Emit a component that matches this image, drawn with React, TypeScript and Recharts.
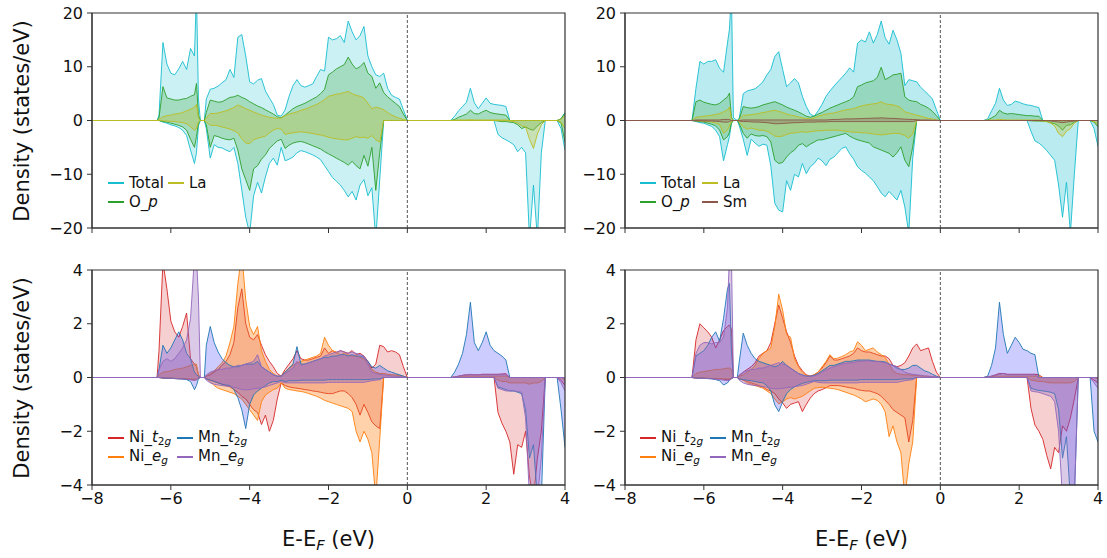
import React from 'react'
import {
  ComposedChart,
  Area,
  XAxis,
  YAxis,
  ReferenceLine,
  ReferenceArea,
} from 'recharts'

// energy grid (eV), shared by all four panels
const X = [
  -8, -6.35, -6.3, -6.2, -6.1, -6.0, -5.9, -5.8, -5.7, -5.6, -5.5, -5.4, -5.35, -5.3, -5.25, -5.15,
  -5.1, -5.0, -4.9, -4.8, -4.7, -4.6, -4.5, -4.4, -4.3, -4.2, -4.1,
  -4.0, -3.9, -3.8, -3.7, -3.6, -3.5, -3.4, -3.3, -3.2, -3.1,
  -3.0, -2.9, -2.8, -2.7, -2.6, -2.5, -2.4, -2.3, -2.2, -2.1,
  -2.0, -1.9, -1.8, -1.7, -1.6, -1.5, -1.4, -1.3, -1.2, -1.1,
  -1.0, -0.9, -0.8, -0.7, -0.6, -0.5, -0.4, -0.3, -0.2, -0.1, 0.0,
  1.1, 1.2, 1.3, 1.4, 1.5, 1.6, 1.7, 1.8, 1.9, 2.0,
  2.1, 2.2, 2.3, 2.4, 2.5, 2.6, 2.7, 2.8, 2.9, 3.0,
  3.1, 3.2, 3.3, 3.4, 3.5, 3.6, 3.7, 3.8, 3.9, 4.0,
]

const X_TICKS = [-8, -6, -4, -2, 0, 2, 4]
const TOP_TICKS = [-20, -10, 0, 10, 20]
const BOT_TICKS = [-4, -2, 0, 2, 4]

// ---- top left (La) ----
const TL_TOT_UP = [
  0, 0, 1, 14.5, 10.5, 8.8, 8.5, 9.6, 11.0, 9.5, 13.4, 12.0, 24, 4, 0, 0,
  4, 5.8, 6.0, 6.4, 7.0, 7.6, 9.5, 8.0, 15.5, 16.0, 12.0,
  7.2, 6.8, 7.5, 7.8, 5.5, 4.2, 3.0, 1.0, 0.8, 2.0,
  4.5, 6.5, 7.6, 6.5, 6.2, 6.5, 6.8, 8.2, 9.5, 9.2,
  15.5, 15.0, 15.2, 15.8, 14.5, 18.5, 16.5, 15.0, 15.8, 17.5,
  12.0, 10.0, 8.5, 8.2, 8.8, 6.0, 4.7, 4.3, 4.0, 2.0, 0,
  0, 0.8, 1.8, 2.6, 3.4, 6.0, 3.3, 2.2, 3.2, 4.2,
  3.2, 3.0, 2.9, 2.8, 2.6, 0, 0, 0, 0, 0,
  0, 0, 0, 0, 0, 0, 0, 0, 0.3, 1.5,
]
const TL_TOT_DN = [
  0, 0, 0, -0.3, -0.5, -0.8, -1.0, -1.3, -1.8, -2.8, -5.5, -8.0, -6.0, -1.0, 0, 0,
  -1.5, -7.0, -4.5, -5.0, -5.1, -5.5, -5.8, -5.0, -8.0, -12.9, -18.0,
  -21, -14.0, -11.5, -13.5, -10.5, -8.0, -7.0, -8.3, -5.0, -7.5,
  -7.2, -6.8, -6.0, -5.6, -5.8, -6.1, -6.4, -6.8, -7.3, -8.4,
  -9.5, -10.6, -11.3, -12.0, -13.0, -14.2, -13.2, -14.8, -12.0, -11.0,
  -14.0, -12.5, -22, -11.0, 0, 0, 0, 0, 0, 0, 0,
  0, 0, 0, 0, 0, 0, 0, 0, 0, 0,
  0, 0, -2.6, -3.2, -3.6, -4.0, -4.5, -5.8, -5.0, -6.0,
  -22, -12.0, -22, -6.0, 0, 0, 0, 0, -1.5, -5.5,
]
const TL_OP_UP = [
  0, 0, 0.5, 6.3, 4.2, 4.0, 3.8, 3.8, 4.0, 4.1, 4.5, 4.8, 6.9, 1.0, 0, 0,
  1.5, 3.8, 3.6, 3.4, 3.5, 3.9, 4.3, 4.4, 4.7, 4.3, 4.0,
  3.5, 3.1, 2.7, 2.4, 2.0, 1.6, 1.2, 0.7, 0.5, 1.0,
  1.6, 2.2, 2.6, 2.9, 3.2, 3.6, 4.0, 4.4, 5.0, 5.8,
  8.5, 9.0, 9.6, 10.0, 10.4, 11.8, 10.5, 9.6, 10.0, 10.8,
  8.8, 8.2, 6.0, 7.0, 5.2, 4.4, 3.8, 3.2, 2.6, 1.2, 0,
  0, 0.2, 0.6, 0.9, 1.2, 1.9, 1.3, 1.2, 1.6, 1.9,
  1.5, 1.3, 1.2, 1.1, 1.0, 0, 0, 0, 0, 0,
  0, 0, 0, 0, 0, 0, 0, 0, 0.3, 1.4,
]
const TL_OP_DN = [
  0, 0, 0, -0.2, -0.3, -0.5, -0.7, -0.9, -1.2, -1.8, -3.5, -5.0, -3.0, -0.5, 0, 0,
  -0.8, -5.0, -2.8, -3.0, -3.3, -3.5, -3.6, -3.3, -5.5, -9.0, -11.0,
  -13.0, -9.0, -8.4, -7.2, -6.4, -5.2, -4.5, -3.8, -3.5, -5.2,
  -4.6, -4.2, -4.0, -3.9, -4.1, -4.4, -4.7, -5.0, -5.3, -5.8,
  -6.2, -6.6, -7.0, -7.4, -7.8, -8.3, -7.6, -8.4, -9.0, -6.5,
  -8.5, -5.0, -13.0, -6.0, 0, 0, 0, 0, 0, 0, 0,
  0, 0, 0, 0, 0, 0, 0, 0, 0, 0,
  0, 0, -0.1, -0.2, -0.2, -0.3, -0.4, -0.8, -1.5, -1.2,
  -1.6, -1.8, -1.0, -0.4, 0, 0, 0, 0, -0.5, -4.0,
]
const TL_LA_UP = [
  0, 0, 0.2, 0.7, 0.9, 1.0, 1.2, 1.3, 1.5, 1.8, 2.1, 2.5, 3.0, 0.5, 0, 0,
  0.5, 1.3, 1.3, 1.4, 1.6, 1.8, 2.1, 2.4, 2.9, 2.6, 2.2,
  1.9, 1.6, 1.3, 1.0, 0.8, 0.6, 0.5, 0.4, 0.5, 0.9,
  1.2, 1.4, 1.6, 1.9, 2.1, 2.4, 2.7, 3.0, 3.4, 3.9,
  4.5, 4.7, 4.9, 5.0, 5.2, 5.4, 5.0, 4.7, 4.5, 4.2,
  3.2, 2.2, 2.5, 2.3, 2.0, 1.5, 1.0, 0.7, 0.4, 0.2, 0,
  0, 0.05, 0.1, 0.1, 0.1, 0.15, 0.1, 0.1, 0.1, 0.1,
  0.1, 0.1, 0.1, 0.1, 0.1, 0, 0, 0, 0, 0,
  0, 0, 0, 0, 0, 0, 0, 0, 0.2, 1.0,
]
const TL_LA_DN = [
  0, 0, 0, -0.05, -0.1, -0.15, -0.2, -0.3, -0.4, -0.6, -1.2, -1.8, -1.5, -0.3, 0, 0,
  -0.3, -0.9, -0.9, -1.0, -1.2, -1.4, -1.6, -1.9, -2.3, -3.4, -4.2,
  -4.3, -3.6, -3.3, -3.1, -2.9, -2.3, -1.8, -1.5, -1.6, -2.6,
  -2.4, -2.3, -2.2, -2.1, -2.2, -2.3, -2.4, -2.6, -2.7, -2.9,
  -3.1, -3.3, -3.4, -3.5, -3.6, -3.6, -3.3, -3.0, -3.2, -3.1,
  -3.3, -2.8, -3.6, -4.0, 0, 0, 0, 0, 0, 0, 0,
  0, 0, 0, 0, 0, 0, 0, 0, 0, 0,
  0, 0, 0, -0.05, -0.05, -0.1, -0.2, -0.5, -1.0, -1.2,
  -3.5, -5.2, -2.5, -0.8, 0, 0, 0, 0, -0.3, -1.5,
]

// ---- top right (La + Sm) ----
const TR_TOT_UP = [
  0, 0, 0, 6.0, 11.0, 10.5, 11.0, 11.0, 11.3, 9.7, 9.0, 14.4, 17.0, 24, 0.5, 0,
  0.5, 5.0, 5.5, 5.7, 5.9, 6.5, 7.2, 8.5, 9.5, 11.9, 12.8,
  9.5, 6.3, 7.0, 7.8, 7.0, 4.5, 2.6, 1.2, 0.8, 1.8,
  3.0, 4.5, 5.5, 6.4, 7.2, 8.0, 8.8, 9.8, 9.0, 14.4,
  15.0, 14.6, 16.5, 14.4, 16.0, 18.5, 15.4, 14.2, 16.8, 15.0,
  12.5, 6.5, 7.6, 7.4, 7.2, 6.2, 5.5, 4.8, 4.0, 2.0, 0,
  0, 0.3, 1.8, 3.2, 6.0, 3.8, 2.8, 3.0, 3.6, 3.4,
  3.1, 2.9, 2.8, 2.6, 2.4, 0, 0, 0, 0, 0,
  0, 0, 0, 0, 0, 0, 0, 0, 0, 0,
]
const TR_TOT_DN = [
  0, 0, 0, -0.2, -0.4, -0.5, -0.8, -1.1, -1.8, -3.0, -7.5, -4.5, -3.0, -0.5, 0, 0,
  -1.0, -3.5, -6.5, -3.5, -4.2, -4.8, -4.4, -4.6, -8.5, -15.4, -16.7,
  -17.0, -11.2, -13.0, -10.0, -10.5, -8.0, -9.9, -8.6, -8.0, -7.0,
  -7.5, -8.4, -7.2, -6.8, -6.0, -5.2, -4.9, -6.2, -7.2, -8.6,
  -9.3, -9.8, -10.5, -11.2, -12.3, -13.5, -14.2, -13.2, -14.0, -14.8,
  -13.0, -16.1, -21, -7.0, 0, 0, 0, 0, 0, 0, 0,
  0, 0, 0, 0, 0, 0, 0, 0, 0, 0,
  0, 0, -2.0, -3.8, -4.2, -4.8, -5.6, -6.5, -7.4, -12.0,
  -18.0, -11.5, -21.0, -10.0, 0, 0, 0, 0, -1.5, -4.8,
]
const TR_OP_UP = [
  0, 0, 0, 3.5, 3.8, 3.4, 3.2, 3.0, 2.9, 3.2, 3.8, 4.4, 5.1, 0.6, 0, 0,
  0.3, 2.6, 2.4, 2.3, 2.4, 2.6, 2.9, 3.1, 3.3, 3.5, 3.2,
  2.9, 2.5, 2.2, 1.9, 1.6, 1.2, 0.8, 0.6, 0.8, 1.2,
  1.5, 1.9, 2.3, 2.6, 2.9, 3.2, 3.5, 3.8, 4.4, 6.3,
  6.6, 7.0, 7.2, 7.4, 8.0, 9.9, 7.6, 8.0, 8.5, 8.6,
  8.8, 4.4, 3.8, 3.6, 3.5, 3.0, 2.7, 2.3, 1.7, 0.9, 0,
  0, 0.1, 0.5, 0.9, 1.9, 1.4, 1.2, 1.3, 1.2, 1.1,
  1.0, 0.9, 0.9, 0.8, 0.8, 0, 0, 0, 0, 0,
  0, 0, 0, 0, 0, 0, 0, 0, 0, 0,
]
const TR_OP_DN = [
  0, 0, 0, -0.1, -0.2, -0.3, -0.5, -0.7, -1.0, -1.8, -3.6, -3.0, -2.2, -0.5, 0, 0,
  -0.6, -2.4, -3.3, -2.5, -2.8, -2.9, -2.8, -3.0, -4.0, -7.4, -8.0,
  -7.8, -6.8, -6.0, -5.5, -4.6, -4.3, -4.9, -4.4, -4.0, -3.6,
  -3.6, -3.4, -3.2, -3.0, -2.8, -2.6, -2.4, -2.9, -3.3, -3.6,
  -3.8, -4.0, -4.2, -4.9, -5.2, -5.5, -5.8, -6.1, -6.8, -6.0,
  -4.9, -7.4, -8.6, -4.9, 0, 0, 0, 0, 0, 0, 0,
  0, 0, 0, 0, 0, 0, 0, 0, 0, 0,
  0, 0, -0.05, -0.1, -0.1, -0.15, -0.2, -0.4, -0.6, -1.0,
  -1.8, -0.9, -0.8, -0.3, 0, 0, 0, 0, -0.3, -1.2,
]
const TR_LA_UP = [
  0, 0, 0, 0.6, 0.7, 0.8, 0.9, 1.0, 1.1, 1.3, 1.6, 2.0, 2.5, 0.3, 0, 0,
  0.2, 1.0, 1.0, 1.1, 1.2, 1.3, 1.5, 1.6, 1.8, 1.9, 1.7,
  1.5, 1.2, 1.0, 0.9, 0.7, 0.5, 0.4, 0.3, 0.5, 0.8,
  1.0, 1.2, 1.3, 1.4, 1.6, 1.8, 2.0, 2.1, 2.2, 2.5,
  2.7, 2.9, 3.0, 3.1, 3.2, 3.5, 3.1, 3.0, 2.9, 2.7,
  2.4, 1.6, 1.4, 1.2, 1.0, 0.8, 0.6, 0.4, 0.3, 0.1, 0,
  0, 0.05, 0.1, 0.1, 0.2, 0.15, 0.1, 0.1, 0.1, 0.1,
  0.1, 0.1, 0.1, 0.1, 0.1, 0, 0, 0, 0, 0,
  0, 0, 0, 0, 0, 0, 0, 0, 0, 0,
]
const TR_LA_DN = [
  0, 0, 0, -0.05, -0.1, -0.15, -0.2, -0.3, -0.5, -0.8, -2.4, -1.8, -1.0, -0.2, 0, 0,
  -0.3, -1.2, -1.6, -1.4, -1.6, -1.8, -1.8, -2.0, -2.4, -2.9, -3.0,
  -2.9, -2.6, -2.4, -2.3, -2.2, -2.1, -2.2, -2.1, -2.0, -1.9,
  -1.9, -1.8, -1.8, -1.8, -1.8, -1.9, -2.0, -2.1, -2.2, -2.2,
  -2.3, -2.3, -2.4, -2.5, -2.6, -2.7, -2.6, -2.5, -2.4, -2.4,
  -2.5, -2.8, -3.3, -2.5, 0, 0, 0, 0, 0, 0, 0,
  0, 0, 0, 0, 0, 0, 0, 0, 0, 0,
  0, 0, 0, -0.05, -0.05, -0.1, -0.2, -0.5, -1.0, -2.4,
  -3.0, -2.0, -1.5, -0.5, 0, 0, 0, 0, -0.2, -0.8,
]
const TR_SM_UP = [
  0, 0, 0, 0.1, 0.1, 0.1, 0.1, 0.1, 0.1, 0.1, 0.2, 0.2, 0.2, 0, 0, 0,
  0, 0.1, 0.1, 0.1, 0.1, 0.1, 0.1, 0.1, 0.1, 0.1, 0.1,
  0.1, 0.1, 0.1, 0.1, 0.1, 0.1, 0.1, 0.1, 0.1, 0.1,
  0.1, 0.1, 0.15, 0.2, 0.2, 0.25, 0.3, 0.3, 0.3, 0.35,
  0.35, 0.4, 0.4, 0.45, 0.45, 0.5, 0.45, 0.4, 0.4, 0.35,
  0.3, 0.25, 0.2, 0.2, 0.15, 0.1, 0.1, 0.1, 0.05, 0.05, 0,
  0, 0, 0, 0, 0, 0, 0, 0, 0, 0,
  0, 0, 0, 0, 0, 0, 0, 0, 0, 0,
  0, 0, 0, 0, 0, 0, 0, 0, 0, 0,
]
const TR_SM_DN = [
  0, 0, 0, -0.05, -0.05, -0.1, -0.1, -0.1, -0.15, -0.2, -0.3, -0.3, -0.2, 0, 0, 0,
  -0.1, -0.2, -0.2, -0.25, -0.3, -0.3, -0.35, -0.4, -0.5, -0.6, -0.6,
  -0.55, -0.5, -0.45, -0.4, -0.4, -0.35, -0.3, -0.3, -0.3, -0.25,
  -0.25, -0.25, -0.2, -0.2, -0.2, -0.2, -0.2, -0.2, -0.2, -0.2,
  -0.2, -0.2, -0.2, -0.2, -0.2, -0.2, -0.2, -0.2, -0.2, -0.2,
  -0.2, -0.2, -0.2, -0.2, 0, 0, 0, 0, 0, 0, 0,
  0, 0, 0, 0, 0, 0, 0, 0, 0, 0,
  0, 0, 0, 0, 0, 0, 0, -0.1, -0.2, -0.3,
  -0.4, -0.3, -0.2, -0.1, 0, 0, 0, 0, 0, 0,
]

// ---- bottom left (Ni / Mn d orbitals) ----
const BL_NIT_UP = [
  0, 0, 1.0, 4.3, 3.3, 2.1, 1.7, 1.5, 1.9, 2.4, 0.7, 0.5, 0.4, 0.1, 0, 0,
  0.05, 0.1, 0.2, 0.3, 0.45, 0.6, 0.85, 1.3, 2.6, 3.3, 2.0,
  1.5, 1.4, 1.6, 1.2, 0.85, 0.6, 0.4, 0.15, 0.05, 0.3,
  0.5, 0.7, 1.0, 0.7, 0.65, 0.65, 0.7, 0.75, 0.8, 1.1,
  0.9, 1.0, 0.9, 1.0, 0.95, 0.9, 1.0, 0.85, 0.9, 0.8,
  0.6, 0.35, 0.5, 1.2, 1.15, 0.95, 1.0, 0.95, 0.85, 0.4, 0,
  0, 0.02, 0.05, 0.08, 0.1, 0.1, 0.1, 0.1, 0.12, 0.12,
  0.12, 0.12, 0.12, 0.13, 0.14, 0, 0, 0, 0, 0,
  0, 0, 0, 0, 0, 0, 0, 0, 0, 0,
]
const BL_NIT_DN = [
  0, 0, 0, -0.02, -0.03, -0.03, -0.04, -0.05, -0.05, -0.06, -0.08, -0.1, -0.08, -0.02, 0, 0,
  -0.05, -0.1, -0.15, -0.2, -0.25, -0.3, -0.35, -0.45, -0.55, -0.7, -0.8,
  -1.0, -1.2, -1.3, -1.75, -1.4, -2.0, -1.6, -0.8, -0.2, -0.3,
  -0.35, -0.38, -0.4, -0.42, -0.45, -0.47, -0.5, -0.52, -0.55, -0.58,
  -0.6, -0.6, -0.55, -0.5, -0.5, -0.6, -0.75, -1.0, -1.4, -1.0,
  -1.3, -1.65, -1.8, -1.9, 0, 0, 0, 0, 0, 0, 0,
  0, 0, 0, 0, 0, 0, 0, 0, 0, 0,
  0, 0, -1.3, -1.7, -2.0, -2.4, -3.6, -2.5, -2.6, -2.0,
  -3.7, -4.5, -3.0, -2.0, 0, 0, 0, 0, -0.1, -0.3,
]
const BL_NIE_UP = [
  0, 0, 0.1, 0.2, 0.22, 0.25, 0.3, 0.32, 0.35, 0.4, 0.45, 0.5, 0.5, 0.1, 0, 0,
  0.05, 0.15, 0.25, 0.4, 0.55, 0.8, 1.3, 1.9, 3.5, 4.6, 2.9,
  1.9, 1.6, 1.9, 1.0, 0.6, 0.3, 0.15, 0.05, 0.05, 0.2,
  0.35, 0.45, 0.55, 0.6, 0.65, 0.7, 0.75, 0.8, 0.9, 1.5,
  1.2, 1.0, 0.95, 0.85, 0.9, 0.85, 0.8, 0.8, 0.75, 0.7,
  0.5, 0.3, 0.2, 0.15, 0.15, 0.12, 0.1, 0.1, 0.08, 0.05, 0,
  0, 0.02, 0.03, 0.05, 0.05, 0.05, 0.05, 0.05, 0.05, 0.05,
  0.05, 0.05, 0.05, 0.05, 0.05, 0, 0, 0, 0, 0,
  0, 0, 0, 0, 0, 0, 0, 0, 0, 0,
]
const BL_NIE_DN = [
  0, 0, 0, -0.02, -0.02, -0.02, -0.03, -0.03, -0.03, -0.04, -0.05, -0.06, -0.05, -0.01, 0, 0,
  -0.05, -0.15, -0.3, -0.4, -0.45, -0.5, -0.55, -0.6, -0.7, -0.8, -1.0,
  -1.2, -1.4, -1.6, -0.9, -0.65, -0.55, -0.45, -0.4, -0.2, -0.4,
  -0.45, -0.47, -0.5, -0.52, -0.55, -0.6, -0.65, -0.7, -0.77, -0.85,
  -0.9, -0.95, -1.0, -1.05, -1.1, -1.15, -1.27, -2.0, -2.4, -2.0,
  -2.3, -2.8, -4.5, -2.3, 0, 0, 0, 0, 0, 0, 0,
  0, 0, 0, 0, 0, 0, 0, 0, 0, 0,
  0, 0, -0.1, -0.15, -0.15, -0.2, -0.2, -0.2, -0.2, -0.2,
  -0.25, -0.2, -0.2, -0.15, 0, 0, 0, 0, 0, -0.1,
]
const BL_MNT_UP = [
  0, 0, 0.3, 1.2, 0.9, 1.1, 1.4, 1.7, 1.4, 0.9, 0.7, 0.2, 0.1, 0.05, 0, 0,
  1.2, 1.9, 1.3, 0.95, 0.7, 0.55, 0.45, 0.4, 0.4, 0.45, 0.5,
  0.5, 0.5, 0.6, 0.4, 0.3, 0.2, 0.1, 0.05, 0.05, 0.2,
  0.35, 0.5, 1.15, 0.5, 0.5, 0.55, 0.6, 0.65, 0.7, 0.75,
  0.75, 0.8, 0.8, 0.85, 0.85, 0.8, 0.85, 0.8, 0.8, 0.75,
  0.6, 0.4, 0.35, 0.45, 0.35, 0.25, 0.2, 0.15, 0.1, 0.05, 0,
  0, 0.2, 0.5, 0.9, 1.6, 2.8, 1.3, 1.0, 1.3, 1.7,
  1.2, 1.0, 0.9, 0.8, 0.65, 0, 0, 0, 0, 0,
  0, 0, 0, 0, 0, 0, 0, 0, 0, 0,
]
const BL_MNT_DN = [
  0, 0, 0, -0.02, -0.03, -0.03, -0.04, -0.05, -0.06, -0.08, -0.15, -0.45, -0.3, -0.05, 0, 0,
  -0.05, -0.1, -0.15, -0.2, -0.25, -0.28, -0.3, -0.45, -0.75, -1.2, -1.9,
  -1.0, -0.65, -0.5, -0.4, -0.3, -0.2, -0.15, -0.15, -0.1, -0.15,
  -0.12, -0.12, -0.12, -0.1, -0.1, -0.1, -0.1, -0.1, -0.1, -0.1,
  -0.08, -0.08, -0.08, -0.08, -0.08, -0.08, -0.08, -0.08, -0.08, -0.08,
  -0.08, -0.06, -0.05, -0.05, 0, 0, 0, 0, 0, 0, 0,
  0, 0, 0, 0, 0, 0, 0, 0, 0, 0,
  0, 0, -0.35, -0.4, -0.45, -0.5, -0.5, -0.55, -0.6, -1.2,
  -3.0, -2.5, -4.5, -4.5, 0, 0, 0, 0, -1.2, -2.6,
]
const BL_MNE_UP = [
  0, 0, 0.3, 0.6, 0.7, 0.6, 0.7, 0.9, 1.1, 1.4, 2.2, 4.5, 4.5, 3.0, 0, 0,
  0.1, 0.2, 0.25, 0.3, 0.3, 0.35, 0.35, 0.4, 0.45, 0.45, 0.5,
  0.55, 0.6, 0.85, 0.4, 0.3, 0.2, 0.1, 0.05, 0.05, 0.15,
  0.25, 0.35, 0.6, 0.45, 0.5, 0.55, 0.6, 0.65, 0.7, 0.8,
  0.85, 0.9, 0.95, 1.0, 0.95, 0.9, 0.95, 0.9, 0.85, 0.8,
  0.5, 0.2, 0.15, 0.12, 0.1, 0.08, 0.06, 0.05, 0.03, 0.02, 0,
  0, 0.02, 0.05, 0.08, 0.1, 0.12, 0.1, 0.1, 0.1, 0.1,
  0.1, 0.1, 0.1, 0.1, 0.1, 0, 0, 0, 0, 0,
  0, 0, 0, 0, 0, 0, 0, 0, 0, 0,
]
const BL_MNE_DN = [
  0, 0, 0, -0.02, -0.02, -0.03, -0.03, -0.04, -0.05, -0.06, -0.08, -0.1, -0.08, -0.02, 0, 0,
  -0.1, -0.2, -0.25, -0.28, -0.3, -0.32, -0.34, -0.36, -0.4, -0.45, -0.46,
  -0.45, -0.42, -0.4, -0.38, -0.35, -0.3, -0.25, -0.2, -0.15, -0.2,
  -0.2, -0.2, -0.2, -0.2, -0.2, -0.2, -0.2, -0.2, -0.2, -0.2,
  -0.18, -0.18, -0.18, -0.18, -0.18, -0.18, -0.18, -0.18, -0.18, -0.18,
  -0.15, -0.12, -0.1, -0.08, 0, 0, 0, 0, 0, 0, 0,
  0, 0, 0, 0, 0, 0, 0, 0, 0, 0,
  0, 0, -0.4, -0.45, -0.5, -0.5, -0.5, -0.52, -0.55, -1.5,
  -4.5, -4.5, -4.5, -3.0, 0, 0, 0, 0, -0.2, -0.5,
]

// ---- bottom right ----
const BR_NIT_UP = [
  0, 0, 0, 1.4, 2.0, 1.85, 1.7, 1.5, 1.1, 1.4, 1.75, 1.9, 1.95, 1.8, 0, 0,
  0.05, 0.2, 0.3, 0.4, 0.55, 0.8, 0.9, 1.0, 1.3, 2.0, 2.7,
  2.2, 1.7, 1.3, 0.8, 0.45, 0.25, 0.1, 0.05, 0.1, 0.2,
  0.35, 0.55, 0.8, 0.65, 0.65, 0.7, 0.75, 0.8, 0.9, 1.1,
  1.0, 0.95, 0.95, 0.9, 0.85, 0.8, 0.8, 0.7, 0.45, 0.4,
  0.45, 0.55, 0.8, 1.1, 1.25, 1.0, 1.05, 1.1, 0.6, 0.2, 0,
  0, 0.02, 0.05, 0.1, 0.15, 0.15, 0.12, 0.12, 0.12, 0.12,
  0.12, 0.12, 0.12, 0.12, 0.1, 0, 0, 0, 0, 0,
  0, 0, 0, 0, 0, 0, 0, 0, 0, 0,
]
const BR_NIT_DN = [
  0, 0, 0, -0.02, -0.02, -0.03, -0.03, -0.04, -0.05, -0.05, -0.06, -0.08, -0.08, -0.05, 0, 0,
  -0.05, -0.1, -0.15, -0.2, -0.25, -0.3, -0.35, -0.45, -0.5, -0.6, -0.8,
  -0.95, -1.15, -1.0, -0.95, -0.9, -1.27, -1.0, -0.77, -0.6, -0.5,
  -0.45, -0.38, -0.3, -0.3, -0.3, -0.32, -0.35, -0.38, -0.4, -0.45,
  -0.48, -0.5, -0.5, -0.55, -0.6, -0.7, -0.85, -1.0, -1.2, -1.3,
  -1.4, -1.5, -2.4, -1.6, 0, 0, 0, 0, 0, 0, 0,
  0, 0, 0, 0, 0, 0, 0, 0, 0, 0,
  0, 0, -1.15, -1.77, -2.0, -2.3, -2.9, -3.4, -2.6, -2.8,
  -1.8, -2.0, -1.5, -0.8, 0, 0, 0, 0, -0.1, -0.2,
]
const BR_NIE_UP = [
  0, 0, 0, 0.15, 0.2, 0.22, 0.25, 0.27, 0.3, 0.3, 0.32, 0.35, 0.35, 0.3, 0, 0,
  0.05, 0.1, 0.2, 0.3, 0.45, 0.7, 0.9, 1.0, 1.1, 1.9, 3.1,
  2.5, 1.6, 1.5, 0.7, 0.4, 0.2, 0.08, 0.05, 0.1, 0.2,
  0.4, 0.6, 0.85, 0.7, 0.72, 0.78, 0.85, 0.95, 1.0, 1.33,
  1.2, 1.0, 1.05, 1.1, 0.95, 0.85, 0.75, 0.5, 0.25, 0.15,
  0.12, 0.1, 0.1, 0.08, 0.08, 0.06, 0.05, 0.04, 0.03, 0.02, 0,
  0, 0.02, 0.03, 0.05, 0.05, 0.05, 0.05, 0.05, 0.05, 0.05,
  0.05, 0.05, 0.05, 0.05, 0.05, 0, 0, 0, 0, 0,
  0, 0, 0, 0, 0, 0, 0, 0, 0, 0,
]
const BR_NIE_DN = [
  0, 0, 0, -0.02, -0.02, -0.02, -0.03, -0.03, -0.03, -0.04, -0.05, -0.05, -0.05, -0.02, 0, 0,
  -0.05, -0.1, -0.2, -0.25, -0.3, -0.35, -0.4, -0.5, -0.6, -0.8, -0.98,
  -0.9, -0.8, -0.75, -0.8, -0.75, -0.7, -0.6, -0.5, -0.4, -0.38,
  -0.36, -0.38, -0.4, -0.42, -0.45, -0.5, -0.55, -0.6, -0.65, -0.72,
  -0.8, -0.9, -0.85, -0.8, -0.85, -1.0, -1.27, -2.2, -1.8, -2.4,
  -2.8, -4.5, -3.2, -2.4, 0, 0, 0, 0, 0, 0, 0,
  0, 0, 0, 0, 0, 0, 0, 0, 0, 0,
  0, 0, -0.1, -0.12, -0.15, -0.15, -0.18, -0.2, -0.2, -0.2,
  -0.2, -0.2, -0.2, -0.15, 0, 0, 0, 0, 0, -0.05,
]
const BR_MNT_UP = [
  0, 0, 0, 0.8, 0.9, 1.0, 1.2, 1.5, 1.7, 1.35, 2.2, 3.3, 3.5, 1.0, 0, 0,
  0.6, 1.65, 1.2, 0.9, 0.7, 0.6, 0.55, 0.5, 0.45, 0.4, 0.45,
  0.6, 0.45, 0.35, 0.25, 0.15, 0.1, 0.05, 0.05, 0.08, 0.15,
  0.25, 0.35, 0.45, 0.45, 0.5, 0.55, 0.6, 0.6, 0.62, 0.65,
  0.65, 0.65, 0.65, 0.62, 0.6, 0.6, 0.58, 0.5, 0.45, 0.35,
  0.3, 0.3, 0.35, 0.45, 0.45, 0.35, 0.25, 0.2, 0.12, 0.05, 0,
  0, 0.05, 0.45, 1.1, 2.8, 1.6, 0.9, 1.2, 1.5, 1.3,
  1.05, 1.0, 0.9, 0.85, 0, 0, 0, 0, 0, 0,
  0, 0, 0, 0, 0, 0, 0, 0, 0, 0,
]
const BR_MNT_DN = [
  0, 0, 0, -0.02, -0.03, -0.03, -0.04, -0.05, -0.08, -0.12, -0.28, -0.2, -0.1, -0.03, 0, 0,
  -0.05, -0.08, -0.1, -0.12, -0.15, -0.18, -0.2, -0.3, -0.5, -1.02, -1.27,
  -0.9, -0.6, -0.45, -0.35, -0.28, -0.22, -0.18, -0.15, -0.12, -0.12,
  -0.12, -0.12, -0.1, -0.1, -0.1, -0.1, -0.1, -0.1, -0.1, -0.1,
  -0.08, -0.08, -0.08, -0.08, -0.08, -0.08, -0.08, -0.08, -0.08, -0.08,
  -0.06, -0.05, -0.05, -0.04, 0, 0, 0, 0, 0, 0, 0,
  0, 0, 0, 0, 0, 0, 0, 0, 0, 0,
  0, 0, -0.4, -0.45, -0.48, -0.5, -0.52, -0.55, -0.6, -1.2,
  -3.0, -2.2, -4.5, -4.5, 0, 0, 0, 0, -2.0, -2.4,
]
const BR_MNE_UP = [
  0, 0, 0, 0.9, 1.2, 1.3, 1.3, 1.25, 1.3, 1.3, 1.5, 2.6, 4.5, 4.5, 0, 0,
  0.1, 0.2, 0.25, 0.3, 0.3, 0.35, 0.35, 0.4, 0.45, 0.5, 0.55,
  0.5, 0.45, 0.35, 0.25, 0.15, 0.08, 0.05, 0.05, 0.06, 0.12,
  0.2, 0.28, 0.35, 0.4, 0.45, 0.5, 0.52, 0.55, 0.55, 0.6,
  0.6, 0.62, 0.62, 0.6, 0.6, 0.58, 0.55, 0.5, 0.45, 0.4,
  0.3, 0.2, 0.15, 0.12, 0.1, 0.08, 0.06, 0.05, 0.03, 0.02, 0,
  0, 0.02, 0.05, 0.08, 0.12, 0.15, 0.1, 0.1, 0.1, 0.1,
  0.1, 0.1, 0.1, 0.1, 0, 0, 0, 0, 0, 0,
  0, 0, 0, 0, 0, 0, 0, 0, 0, 0,
]
const BR_MNE_DN = [
  0, 0, 0, -0.02, -0.03, -0.03, -0.04, -0.05, -0.06, -0.08, -0.1, -0.12, -0.1, -0.03, 0, 0,
  -0.1, -0.2, -0.25, -0.28, -0.3, -0.32, -0.34, -0.36, -0.4, -0.42, -0.42,
  -0.4, -0.38, -0.36, -0.34, -0.32, -0.3, -0.25, -0.2, -0.15, -0.18,
  -0.2, -0.2, -0.2, -0.2, -0.2, -0.2, -0.2, -0.2, -0.2, -0.2,
  -0.18, -0.18, -0.18, -0.18, -0.18, -0.18, -0.18, -0.18, -0.18, -0.18,
  -0.15, -0.12, -0.1, -0.08, 0, 0, 0, 0, 0, 0, 0,
  0, 0, 0, 0, 0, 0, 0, 0, 0, 0,
  0, 0, -0.5, -0.53, -0.55, -0.6, -0.65, -0.7, -0.9, -2.0,
  -4.5, -4.5, -4.5, -4.5, 0, 0, 0, 0, -0.2, -0.4,
]

const C_TOTAL = '#17becf'
const C_OP = '#2ca02c'
const C_LA = '#bcbd22'
const C_SM = '#8c564b'
const C_NIT = '#d62728'
const C_NIE = '#ff7f0e'
const C_MNT = '#1f77b4'
const C_MNE = '#9467bd'

const FONT = '"DejaVu Sans", Verdana, sans-serif'

type Series = { up: number[]; dn: number[]; color: string; fill: string; alpha: number }

const fmt = (v: number) => (v < 0 ? `\u2212${Math.abs(v)}` : `${v}`)

const Sub = ({ children }: { children: React.ReactNode }) => (
  <span style={{ fontSize: '0.7em', verticalAlign: '-0.3em' }}>{children}</span>
)

const PLOT_W = 473
const PLOT_H = 215
const Y_W = 60
const X_H = 30
const M_TOP = 15
const M_RIGHT = 15

function Panel(props: {
  left: number
  top: number
  series: Series[]
  yMax: number
  yTicks: number[]
  showX: boolean
}) {
  const { left, top, series, yMax, yTicks, showX } = props
  const data = X.map((x, i) => {
    const row: Record<string, number> = { x }
    series.forEach((s, k) => {
      row['u' + k] = s.up[i]
      row['d' + k] = s.dn[i]
    })
    return row
  })
  const tickStyle = { fontSize: 16, fill: '#111', fontFamily: FONT }
  return (
    <div style={{ position: 'absolute', left: left - Y_W, top: top - M_TOP }}>
      <ComposedChart
        width={Y_W + PLOT_W + M_RIGHT}
        height={PLOT_H + M_TOP + X_H}
        data={data}
        margin={{ top: M_TOP, right: M_RIGHT, left: 0, bottom: 0 }}
      >
        <XAxis
          type="number"
          dataKey="x"
          domain={[-8, 4]}
          ticks={X_TICKS}
          interval={0}
          allowDataOverflow
          height={X_H}
          tickSize={5}
          tickMargin={3}
          tick={tickStyle}
          tickFormatter={showX ? fmt : () => ''}
          stroke="#333"
        />
        <YAxis
          type="number"
          domain={[-yMax, yMax]}
          ticks={yTicks}
          interval={0}
          allowDataOverflow
          width={Y_W}
          tickSize={5}
          tickMargin={4}
          tick={tickStyle}
          tickFormatter={fmt}
          stroke="#333"
        />
        {series.flatMap((s, k) => [
          <Area
            key={'u' + k}
            type="linear"
            dataKey={'u' + k}
            baseValue={0}
            stroke={s.color}
            strokeWidth={1}
            strokeOpacity={0.9}
            fill={s.fill}
            fillOpacity={s.alpha}
            dot={false}
            activeDot={false}
            isAnimationActive={false}
          />,
          <Area
            key={'d' + k}
            type="linear"
            dataKey={'d' + k}
            baseValue={0}
            stroke={s.color}
            strokeWidth={1}
            strokeOpacity={0.9}
            fill={s.fill}
            fillOpacity={s.alpha}
            dot={false}
            activeDot={false}
            isAnimationActive={false}
          />,
        ])}
        <ReferenceLine x={0} stroke="#555" strokeWidth={1} strokeDasharray="3 2" />
        <ReferenceArea
          x1={-8}
          x2={4}
          y1={-yMax}
          y2={yMax}
          fill="none"
          fillOpacity={0}
          stroke="#333"
          strokeWidth={1.2}
        />
      </ComposedChart>
    </div>
  )
}

type LegendItem = { label: React.ReactNode; color: string; col: number; row: number }

function LegendBox({ x, y, col2, items }: { x: number; y: number; col2: number; items: LegendItem[] }) {
  return (
    <>
      {items.map((it, i) => (
        <div
          key={i}
          style={{
            position: 'absolute',
            left: x + it.col * col2,
            top: y + it.row * 19 - 9,
            height: 18,
            display: 'flex',
            alignItems: 'center',
            fontFamily: FONT,
            fontSize: 15,
            color: '#111',
            whiteSpace: 'nowrap',
          }}
        >
          <div style={{ width: 16, height: 2, background: it.color, marginRight: 5, flex: 'none' }} />
          <span>{it.label}</span>
        </div>
      ))}
    </>
  )
}

const topLeftSeries: Series[] = [
  { up: TL_TOT_UP, dn: TL_TOT_DN, color: C_TOTAL, fill: C_TOTAL, alpha: 0.22 },
  { up: TL_OP_UP, dn: TL_OP_DN, color: C_OP, fill: C_OP, alpha: 0.25 },
  { up: TL_LA_UP, dn: TL_LA_DN, color: C_LA, fill: C_LA, alpha: 0.3 },
]
const topRightSeries: Series[] = [
  { up: TR_TOT_UP, dn: TR_TOT_DN, color: C_TOTAL, fill: C_TOTAL, alpha: 0.3 },
  { up: TR_OP_UP, dn: TR_OP_DN, color: C_OP, fill: C_OP, alpha: 0.25 },
  { up: TR_LA_UP, dn: TR_LA_DN, color: C_LA, fill: C_LA, alpha: 0.3 },
  { up: TR_SM_UP, dn: TR_SM_DN, color: C_SM, fill: C_SM, alpha: 0.3 },
]
const botLeftSeries: Series[] = [
  { up: BL_NIT_UP, dn: BL_NIT_DN, color: C_NIT, fill: C_NIT, alpha: 0.22 },
  { up: BL_NIE_UP, dn: BL_NIE_DN, color: C_NIE, fill: C_NIE, alpha: 0.35 },
  { up: BL_MNT_UP, dn: BL_MNT_DN, color: C_MNT, fill: '#0000ff', alpha: 0.2 },
  { up: BL_MNE_UP, dn: BL_MNE_DN, color: C_MNE, fill: C_MNE, alpha: 0.35 },
]
const botRightSeries: Series[] = [
  { up: BR_NIT_UP, dn: BR_NIT_DN, color: C_NIT, fill: C_NIT, alpha: 0.22 },
  { up: BR_NIE_UP, dn: BR_NIE_DN, color: C_NIE, fill: C_NIE, alpha: 0.35 },
  { up: BR_MNT_UP, dn: BR_MNT_DN, color: C_MNT, fill: '#0000ff', alpha: 0.2 },
  { up: BR_MNE_UP, dn: BR_MNE_DN, color: C_MNE, fill: C_MNE, alpha: 0.35 },
]

const opLabel = (
  <>
    O_<i>p</i>
  </>
)
const nitLabel = (
  <>
    Ni_<i>t</i>
    <Sub>
      2<i>g</i>
    </Sub>
  </>
)
const nieLabel = (
  <>
    Ni_<i>e</i>
    <Sub>
      <i>g</i>
    </Sub>
  </>
)
const mntLabel = (
  <>
    Mn_<i>t</i>
    <Sub>
      2<i>g</i>
    </Sub>
  </>
)
const mneLabel = (
  <>
    Mn_<i>e</i>
    <Sub>
      <i>g</i>
    </Sub>
  </>
)

const xLabel = (
  <>
    E-E<Sub><i>F</i></Sub> (eV)
  </>
)

const labelStyle: React.CSSProperties = {
  position: 'absolute',
  fontFamily: FONT,
  fontSize: 21,
  color: '#111',
  whiteSpace: 'nowrap',
  transform: 'translate(-50%, -50%)',
}

export default function App() {
  return (
    <div
      style={{
        position: 'absolute',
        left: 0,
        top: 0,
        width: 1107,
        height: 558,
        background: '#fff',
        overflow: 'hidden',
      }}
    >
      <Panel left={92} top={13} series={topLeftSeries} yMax={20} yTicks={TOP_TICKS} showX={false} />
      <Panel left={625} top={13} series={topRightSeries} yMax={20} yTicks={TOP_TICKS} showX={false} />
      <Panel left={92} top={270} series={botLeftSeries} yMax={4} yTicks={BOT_TICKS} showX />
      <Panel left={625} top={270} series={botRightSeries} yMax={4} yTicks={BOT_TICKS} showX />

      <LegendBox
        x={108}
        y={183}
        col2={60}
        items={[
          { label: 'Total', color: C_TOTAL, col: 0, row: 0 },
          { label: opLabel, color: C_OP, col: 0, row: 1 },
          { label: 'La', color: C_LA, col: 1, row: 0 },
        ]}
      />
      <LegendBox
        x={640}
        y={183}
        col2={62}
        items={[
          { label: 'Total', color: C_TOTAL, col: 0, row: 0 },
          { label: opLabel, color: C_OP, col: 0, row: 1 },
          { label: 'La', color: C_LA, col: 1, row: 0 },
          { label: 'Sm', color: C_SM, col: 1, row: 1 },
        ]}
      />
      <LegendBox
        x={108}
        y={438}
        col2={69}
        items={[
          { label: nitLabel, color: C_NIT, col: 0, row: 0 },
          { label: nieLabel, color: C_NIE, col: 0, row: 1 },
          { label: mntLabel, color: C_MNT, col: 1, row: 0 },
          { label: mneLabel, color: C_MNE, col: 1, row: 1 },
        ]}
      />
      <LegendBox
        x={640}
        y={438}
        col2={70}
        items={[
          { label: nitLabel, color: C_NIT, col: 0, row: 0 },
          { label: nieLabel, color: C_NIE, col: 0, row: 1 },
          { label: mntLabel, color: C_MNT, col: 1, row: 0 },
          { label: mneLabel, color: C_MNE, col: 1, row: 1 },
        ]}
      />

      <div style={{ ...labelStyle, left: 22, top: 120.5, transform: 'translate(-50%, -50%) rotate(-90deg)' }}>
        Density (states/eV)
      </div>
      <div style={{ ...labelStyle, left: 22, top: 377.5, transform: 'translate(-50%, -50%) rotate(-90deg)' }}>
        Density (states/eV)
      </div>
      <div style={{ ...labelStyle, left: 328.5, top: 540 }}>{xLabel}</div>
      <div style={{ ...labelStyle, left: 861.5, top: 540 }}>{xLabel}</div>
    </div>
  )
}
